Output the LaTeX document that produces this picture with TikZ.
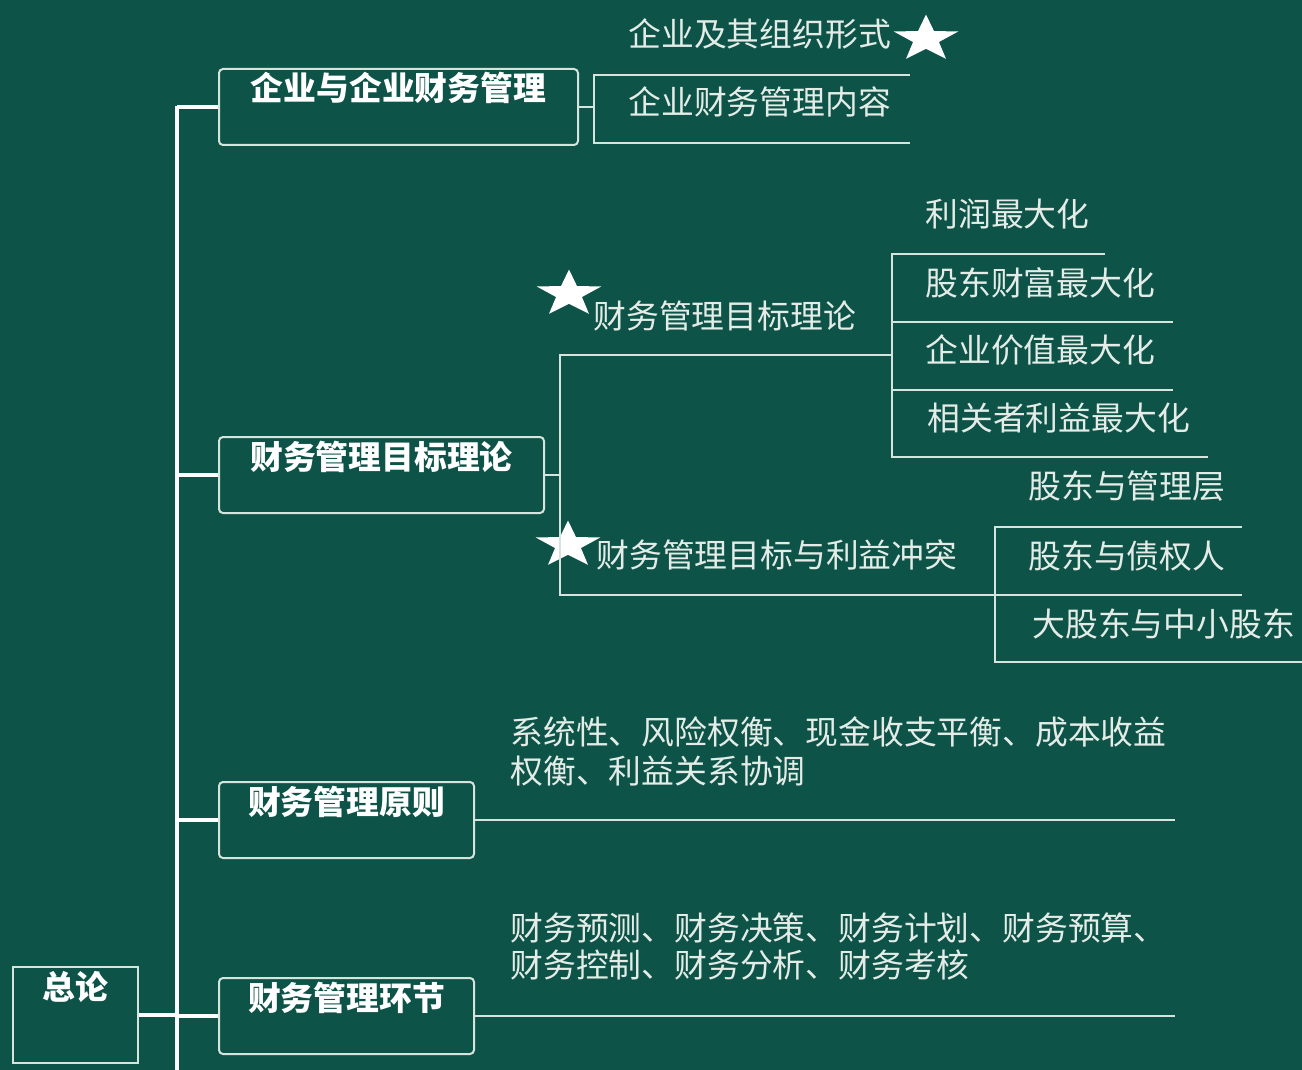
\documentclass[tikz,border=0pt]{standalone}
\usepackage{fontspec}
\setmainfont{Noto Sans CJK SC}
\usetikzlibrary{shapes.geometric}
\definecolor{board}{RGB}{14,83,72}
\definecolor{chalk}{RGB}{214,228,222}
\definecolor{chalktext}{RGB}{228,236,232}
\tikzset{
  topic/.style={draw=chalk, line width=1pt, rounded corners=2pt, text=white, anchor=west,
    font=\fontsize{16.4}{18}\selectfont\bfseries, inner xsep=0pt, inner ysep=2pt,
    text height=14pt, text depth=20pt},
  leaf/.style={text=chalktext, anchor=west, inner sep=0pt, font=\fontsize{16.4}{18}\selectfont},
  branch/.style={draw=chalk, line width=1pt},
  trunkline/.style={draw=white, line width=1.6pt},
  starmark/.style={star, star points=5, star point ratio=2.5, fill=white, draw=none,
    minimum size=34pt, inner sep=0pt, yscale=0.72, transform shape}
}
\begin{document}
\begin{tikzpicture}[x=0.5pt, y=-0.5pt]
\fill[board] (0,0) rectangle (1302,1070);
\useasboundingbox (0,0) rectangle (1302,1070);

\node[draw=chalk, line width=1pt, text=white, font=\fontsize{16.4}{18}\selectfont\bfseries,
      inner xsep=0pt, inner ysep=2pt, text height=14pt, text depth=30pt,
      minimum width=62.5pt, anchor=north west] (root) at (12,966) {总论};

\node[topic, minimum width=179.5pt] (goal0) at (218,107) {企业与企业财务管理};
\node[topic, minimum width=162.5pt] (goal1) at (218,475) {财务管理目标理论};
\node[topic, minimum width=127.5pt] (rule) at (218,820) {财务管理原则};
\node[topic, minimum width=127.5pt] (step0) at (218,1016) {财务管理环节};

\coordinate (t0) at (177,106);
\coordinate (t1) at (177,1070);
\draw[trunkline] (t0) -- (t1);
\draw[trunkline, line width=2.2pt] (root.east) -- (root.east -| t0);
\draw[trunkline] (goal0.west -| t0) -- (goal0.west);
\draw[trunkline] (goal1.west -| t0) -- (goal1.west);
\draw[trunkline] (rule.west -| t0) -- (rule.west);
\draw[trunkline] (step0.west -| t0) -- (step0.west);

% 企业与企业财务管理
\node[leaf] (form) at (628,34) {企业及其组织形式};
\node[leaf] (cont) at (628,102) {企业财务管理内容};
\node[starmark] (s1) at (926,39) {};
\coordinate (k1) at (594,108);
\coordinate (u1) at (910,75);
\coordinate (u2) at (910,143);
\draw[branch] (goal0.east) -- (goal0.east -| k1);
\draw[branch] (u1) -- (u1 -| k1) -- (u2 -| k1) -- (u2);

% 财务管理目标理论
\coordinate (k2) at (560,475);
\coordinate (m1) at (892,355);
\coordinate (m2) at (995,595);
\node[leaf] (theory) at (593,316) {财务管理目标理论};
\node[leaf] (clash) at (596,555) {财务管理目标与利益冲突};
\node[starmark] (s2) at (569,294) {};
\node[starmark] (s3) at (568,545) {};
\draw[branch] (goal1.east) -- (goal1.east -| k2);
\draw[branch] (m1) -- (m1 -| k2) -- (m2 -| k2) -- (m2);

\node[leaf] (v1t) at (925,214) {利润最大化};
\node[leaf] (v2t) at (925,283) {股东财富最大化};
\node[leaf] (v3t) at (925,350) {企业价值最大化};
\node[leaf] (v4t) at (927,418) {相关者利益最大化};
\coordinate (v1) at (1105,254);
\coordinate (v2) at (1173,322);
\coordinate (v3) at (1173,390);
\coordinate (v4) at (1208,457);
\draw[branch] (v1) -- (v1 -| m1) -- (v4 -| m1) -- (v4);
\draw[branch] (v2 -| m1) -- (v2);
\draw[branch] (v3 -| m1) -- (v3);

\node[leaf] (w1t) at (1028,486) {股东与管理层};
\node[leaf] (w2t) at (1028,556) {股东与债权人};
\node[leaf] (w3t) at (1032,624) {大股东与中小股东};
\coordinate (w1) at (1242,527);
\coordinate (w2) at (1242,595);
\coordinate (w3) at (1302,662);
\draw[branch] (w1) -- (w1 -| m2) -- (w3 -| m2) -- (w3);
\draw[branch] (w2 -| m2) -- (w2);

% 原则, 环节
\node[leaf] (rule1) at (510,732) {系统性、风险权衡、现金收支平衡、成本收益};
\node[leaf] (rule2) at (510,771) {权衡、利益关系协调};
\coordinate (p1) at (1175,820);
\draw[branch] (rule.east) -- (p1);

\node[leaf] (step1) at (510,928) {财务预测、财务决策、财务计划、财务预算、};
\node[leaf] (step2) at (510,965) {财务控制、财务分析、财务考核};
\coordinate (p2) at (1175,1016);
\draw[branch] (step0.east) -- (p2);
\end{tikzpicture}
\end{document}
